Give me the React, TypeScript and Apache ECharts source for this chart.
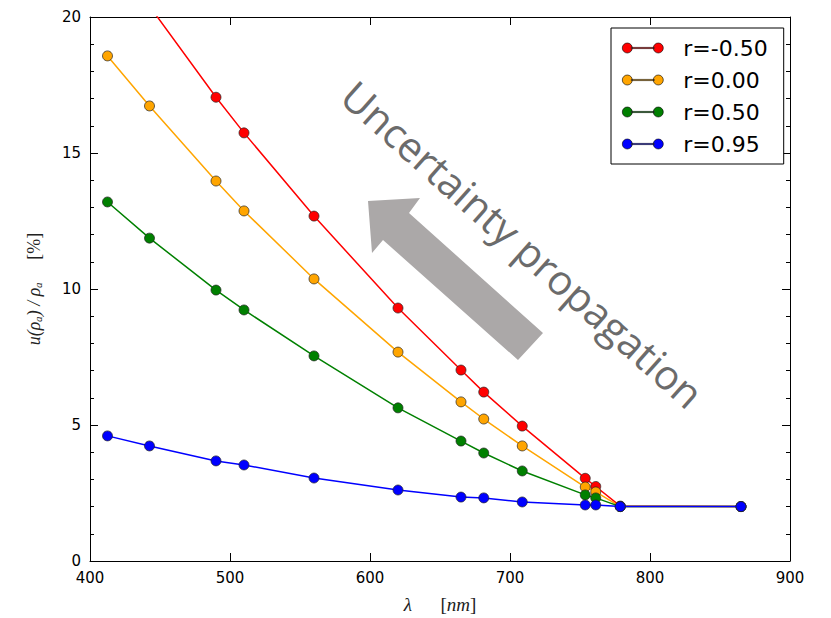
import React, { useEffect, useRef } from "react";
import * as echarts from "echarts";

const wavelengths = [412.5, 442.5, 490, 510, 560, 620, 665, 681.25, 708.75, 753.75, 761.25, 778.75, 865];
const seriesNames = ["r=-0.50", "r=0.00", "r=0.50", "r=0.95"];
const rMinus050 = [22.7, 20.4, 17.05, 15.74, 12.68, 9.3, 7.02, 6.21, 4.96, 3.04, 2.74, 2.02, 2.0];
const r000 = [18.57, 16.73, 13.97, 12.87, 10.37, 7.68, 5.85, 5.22, 4.23, 2.72, 2.54, 2.0, 2.0];
const r050 = [13.2, 11.87, 9.96, 9.23, 7.54, 5.63, 4.41, 3.97, 3.31, 2.43, 2.32, 2.0, 2.0];
const r095 = [4.6, 4.23, 3.68, 3.53, 3.05, 2.61, 2.35, 2.32, 2.17, 2.06, 2.06, 2.0, 2.0];
const seriesColors = ["#ff0000", "#ffa500", "#008000", "#0000ff"];
const xTicks = { min: 400, max: 900, interval: 100 };
const yTicks = { min: 0, max: 20, interval: 5 };

const legendIcon =
  "path://M0,5a5,5 0 1,0 10,0a5,5 0 1,0 -10,0zM31,5a5,5 0 1,0 10,0a5,5 0 1,0 -10,0zM9,4.4h23v1.2h-23z";

export default function App() {
  const ref = useRef<HTMLDivElement>(null);
  useEffect(() => {
    if (!ref.current) return;
    document.body.style.margin = "0";
    const chart = echarts.init(ref.current, null, { renderer: "svg", width: 831, height: 618 });
    const allValues = [rMinus050, r000, r050, r095];
    const tickStyle = { color: "#000", width: 1 };
    const labelStyle = { color: "#000", fontFamily: "DejaVu Sans", fontSize: 15 };
    const baseX = {
      type: "value" as const,
      min: xTicks.min,
      max: xTicks.max,
      interval: xTicks.interval,
      splitLine: { show: false },
      axisLine: { show: true, onZero: false, lineStyle: { color: "#000", width: 1 } },
      axisTick: { show: true, inside: true, length: 8, lineStyle: tickStyle },
    };
    const baseY = {
      type: "value" as const,
      min: yTicks.min,
      max: yTicks.max,
      interval: yTicks.interval,
      splitLine: { show: false },
      axisLine: { show: true, onZero: false, lineStyle: { color: "#000", width: 1 } },
      axisTick: { show: true, inside: true, length: 8, lineStyle: tickStyle },
      minorTick: { show: true, splitNumber: 5, length: 4, lineStyle: tickStyle },
    };
    chart.setOption({
      animation: false,
      backgroundColor: "#fff",
      grid: {
        left: 90,
        width: 700,
        top: 17,
        height: 544,
        containLabel: false,
        outerBoundsMode: "none",
      },
      xAxis: [
        {
          ...baseX,
          position: "bottom",
          axisLabel: { ...labelStyle, margin: 9 },
          name: "{a|λ}{b|      [}{a|nm}{b|]}",
          nameLocation: "middle",
          nameGap: 34,
          nameTextStyle: {
            rich: {
              a: { fontFamily: "Liberation Serif", fontStyle: "italic", fontSize: 19, color: "#222" },
              b: { fontFamily: "Liberation Serif", fontSize: 19, color: "#222" },
            },
          },
        },
        { ...baseX, position: "top", axisLabel: { show: false } },
      ],
      yAxis: [
        {
          ...baseY,
          position: "left",
          axisLabel: { ...labelStyle, margin: 9 },
          name: "{a|u(ρₐ) / ρₐ}{b|     [%]}",
          nameLocation: "middle",
          nameGap: 47,
          nameTextStyle: {
            rich: {
              a: { fontFamily: "Liberation Serif", fontStyle: "italic", fontSize: 18, color: "#222" },
              b: { fontFamily: "Liberation Serif", fontSize: 18, color: "#222" },
            },
          },
        },
        { ...baseY, position: "right", axisLabel: { show: false } },
      ],
      legend: {
        orient: "vertical",
        left: 611,
        top: 28,
        padding: [8, 16, 8, 11],
        itemGap: 8,
        itemWidth: 41,
        itemHeight: 10,
        icon: legendIcon,
        borderColor: "#000",
        borderWidth: 1,
        borderRadius: 0,
        backgroundColor: "#fff",
        textStyle: { fontFamily: "DejaVu Sans", fontSize: 22, color: "#000", lineHeight: 24, padding: [0, 0, 0, 15] },
        itemStyle: { borderWidth: 0.6, borderColor: "#000" },
        data: seriesNames,
      },
      series: seriesNames.map((name, i) => ({
        name,
        type: "line",
        xAxisIndex: 0,
        yAxisIndex: 0,
        clip: true,
        data: wavelengths.map((w, j) => [w, allValues[i][j]]),
        symbol: "circle",
        symbolSize: 10,
        showSymbol: true,
        lineStyle: { color: seriesColors[i], width: 1.5 },
        itemStyle: { color: seriesColors[i], borderColor: "#222", borderWidth: 0.7 },
        z: 2 + i,
      })),
      graphic: [
        {
          type: "polygon",
          shape: {
            points: [
              [368, 201],
              [420, 198],
              [409, 213],
              [543, 333],
              [518, 360],
              [383, 240],
              [372, 253],
            ],
          },
          style: { fill: "#aba8a8" },
          z: 10,
        },
        {
          type: "text",
          x: 523,
          y: 244,
          rotation: (-41.7 * Math.PI) / 180,
          style: {
            text: "Uncertainty propagation",
            fontFamily: "Open Sans",
            fontSize: 41,
            fill: "#6b6b6b",
            align: "center",
            verticalAlign: "middle",
          },
          z: 10,
        },
      ],
    });
    return () => chart.dispose();
  }, []);
  return (
    <div
      ref={ref}
      style={{ position: "absolute", left: 0, top: 0, width: 831, height: 618, background: "#fff" }}
    />
  );
}
